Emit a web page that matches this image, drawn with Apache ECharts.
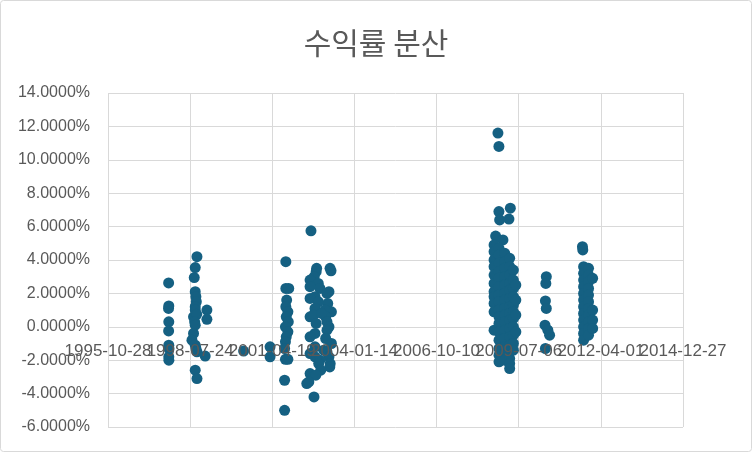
<!DOCTYPE html>
<html>
<head>
<meta charset="utf-8">
<script src="https://cdn.jsdelivr.net/npm/echarts@6/dist/echarts.min.js"></script>
<style>
html,body{margin:0;padding:0;background:#fff;}
#chart{width:752px;height:452px;}
</style>
</head>
<body>
<div id="chart"></div>
<script>
// Title and axis settings
const chartTitle = '수익률 분산';
const xTickStart = 35000;   // Excel date serial (1995-10-28)
const xTickEnd = 42000;     // 2014-12-27
const xTickStep = 1000;     // days
const yTickStart = -6;      // percent
const yTickEnd = 14;
const yTickStep = 2;

// Observation dates (Excel date serials) and returns (%), grouped by period
const datesA = [35738, 35740, 35737, 35740, 35738, 35740, 35742, 35740, 35741];
const returnsA = [2.63, 1.25, 1.1, 0.3, -0.25, -1.1, -1.3, -1.8, -2.0];

const datesB = [36083, 36062, 36050, 36062, 36070, 36075, 36062, 36062, 36041, 36080, 36055, 36062, 36041, 36022, 36062, 36070, 36083, 36062, 36083, 36204, 36204, 36183];
const returnsB = [4.2, 3.55, 2.95, 2.1, 1.8, 1.5, 1.2, 1.0, 0.6, 0.75, 0.3, 0.1, -0.4, -0.8, -1.1, -1.3, -1.5, -2.6, -3.1, 1.0, 0.45, -1.75];

const datesC = [36651, 36973, 36973];
const returnsC = [-1.45, -1.2, -1.8];

const datesE = [37165, 37165, 37200, 37175, 37165, 37190, 37170, 37195, 37160, 37190, 37170, 37160, 37150, 37160, 37190, 37150, 37150];
const returnsE = [3.9, 2.3, 2.3, 1.6, 1.2, 0.9, 0.6, 0.3, 0.0, -0.3, -0.6, -0.9, -1.3, -1.95, -1.95, -3.2, -5.0];

const datesF = [37471, 37540, 37534, 37703, 37715, 37511, 37460, 37560, 37460, 37580, 37690, 37666, 37520, 37460, 37675, 37560, 37520, 37720, 37640, 37460, 37504, 37650, 37600, 37534, 37666, 37690, 37520, 37666, 37460, 37650, 37720, 37520, 37625, 37666, 37460, 37520, 37690, 37580, 37565, 37705, 37700, 37590, 37460, 37530, 37420, 37445, 37508];
const returnsF = [5.75, 3.5, 3.3, 3.5, 3.35, 3.0, 2.8, 2.6, 2.4, 2.3, 2.1, 2.0, 1.8, 1.7, 1.4, 1.5, 1.1, 0.9, 1.0, 0.6, 0.7, 0.6, 0.8, 0.2, 0.3, 0.0, -0.4, -0.2, -0.6, -0.7, -1.0, -1.2, -1.4, -1.5, -1.6, -1.8, -1.8, -2.0, -2.2, -2.2, -2.4, -2.6, -2.8, -2.9, -3.4, -3.3, -4.2];

const datesG = [39747, 39759, 39759, 39898, 39768, 39881, 39719, 39808,
  39700, 39700, 39700, 39700, 39700, 39700, 39700, 39700, 39700, 39700, 39700,
  39760, 39760, 39760, 39760, 39760, 39760, 39760, 39760, 39760, 39760, 39760, 39760, 39760, 39760, 39760, 39760,
  39830, 39830, 39830, 39830, 39830, 39830, 39830, 39830, 39830, 39830, 39830, 39830, 39830, 39830, 39830,
  39890, 39890, 39890, 39890, 39890, 39890, 39890, 39890, 39890, 39890, 39890, 39890, 39890, 39890, 39890, 39890,
  39935, 39935, 39935, 39935, 39935, 39935, 39935, 39935, 39935, 39935, 39935,
  39965, 39965, 39965, 39965];
const returnsG = [11.6, 10.8, 6.9, 7.1, 6.4, 6.45, 5.43, 5.2,
  4.9, 4.5, 4.0, 3.6, 3.1, 2.6, 2.1, 1.8, 1.4, 0.9, -0.2,
  4.7, 4.3, 3.8, 3.3, 2.9, 2.4, 1.9, 1.5, 1.0, 0.6, 0.2, -0.3, -0.8, -1.3, -1.7, -2.1,
  4.4, 3.9, 3.5, 3.0, 2.5, 2.0, 1.6, 1.1, 0.7, 0.3, -0.2, -0.7, -1.2, -1.6, -2.0,
  4.1, 3.6, 3.1, 2.6, 2.2, 1.7, 1.2, 0.8, 0.4, -0.1, -0.6, -1.1, -1.5, -1.9, -2.2, -2.5,
  3.4, 2.8, 2.3, 1.8, 1.3, 0.9, 0.5, 0.0, -0.5, -1.0, -1.4,
  2.5, 1.6, 0.7, -0.3];

const datesH = [40336, 40330, 40325, 40336, 40320, 40355, 40376, 40325];
const returnsH = [3.0, 2.6, 1.55, 1.1, 0.1, -0.2, -0.5, -1.3];

const datesI = [40776, 40780,
  40790, 40790, 40790, 40790, 40790, 40790, 40790, 40790, 40790, 40790, 40790, 40790,
  40850, 40850, 40850, 40850, 40850, 40850, 40850, 40850, 40850, 40850, 40850,
  40900, 40900, 40900, 40900];
const returnsI = [4.8, 4.6,
  3.6, 3.2, 2.8, 2.4, 2.0, 1.6, 1.2, 0.8, 0.4, 0.0, -0.4, -0.8,
  3.5, 3.1, 2.7, 2.3, 1.9, 1.5, 1.1, 0.7, 0.3, -0.1, -0.5,
  2.9, 1.0, 0.4, -0.1];

const dates = [].concat(datesA, datesB, datesC, datesE, datesF, datesG, datesH, datesI);
const returns = [].concat(returnsA, returnsB, returnsC, returnsE, returnsF, returnsG, returnsH, returnsI);

function pad(n) { return (n < 10 ? '0' : '') + n; }
function serialToDateString(s) {
  const d = new Date(Date.UTC(1899, 11, 30) + Math.round(s) * 86400000);
  return d.getUTCFullYear() + '-' + pad(d.getUTCMonth() + 1) + '-' + pad(d.getUTCDate());
}
// Tick index (0 for the first tick) used to split labels over two label axes
function tickIndex(v) { return Math.round((v - xTickStart) / xTickStep); }

const points = dates.map((d, i) => [d, returns[i]]);

const textColor = '#595959';
const gridColor = '#d9d9d9';
const labelFont = '"Liberation Sans", Arial, sans-serif';

const gridTop = 93, gridBottom = 25, chartHeight = 452;
const plotHeight = chartHeight - gridTop - gridBottom;
// The date labels sit where the value axis crosses 0 (Excel "axis crosses at 0")
const zeroOffset = -(0 - yTickStart) / (yTickEnd - yTickStart) * plotHeight;

function labelAxis(parity) {
  return {
    type: 'value',
    position: 'bottom',
    offset: zeroOffset,
    min: xTickStart,
    max: xTickEnd,
    interval: xTickStep,
    z: 10,
    axisLine: { show: false, onZero: false },
    axisTick: { show: false },
    splitLine: { show: false },
    axisLabel: {
      show: true,
      margin: 16,
      fontSize: 17,
      fontFamily: labelFont,
      color: textColor,
      showMinLabel: true,
      showMaxLabel: true,
      formatter: v => (tickIndex(v) % 2 === parity ? serialToDateString(v) : '')
    }
  };
}

const chart = echarts.init(document.getElementById('chart'), null, { renderer: 'canvas' });
chart.setOption({
  backgroundColor: '#ffffff',
  animation: false,
  title: {
    text: chartTitle,
    left: 'center',
    top: 23,
    textStyle: {
      fontFamily: '"Noto Sans CJK KR", sans-serif',
      fontSize: 30,
      fontWeight: 'normal',
      color: textColor
    }
  },
  graphic: [{
    type: 'rect',
    shape: { x: 0.5, y: 0.5, width: 751, height: 451, r: 3 },
    style: { fill: null, stroke: gridColor, lineWidth: 1 },
    silent: true,
    z: -10
  }],
  grid: { left: 108, right: 69, top: gridTop, bottom: gridBottom, containLabel: false, outerBoundsMode: 'none' },
  xAxis: [{
    type: 'value',
    position: 'bottom',
    min: xTickStart,
    max: xTickEnd,
    interval: xTickStep,
    axisLine: { show: false, onZero: false },
    axisTick: { show: false },
    axisLabel: { show: false },
    splitLine: { show: true, lineStyle: { color: gridColor, width: 1 } }
  }, labelAxis(0), labelAxis(1)],
  yAxis: {
    type: 'value',
    min: yTickStart,
    max: yTickEnd,
    interval: yTickStep,
    axisLine: { show: false },
    axisTick: { show: false },
    axisLabel: {
      margin: 18,
      fontSize: 16,
      fontFamily: labelFont,
      color: textColor,
      formatter: v => v.toFixed(4) + '%'
    },
    splitLine: { show: true, lineStyle: { color: gridColor, width: 1 } }
  },
  series: [{
    type: 'scatter',
    xAxisIndex: 0,
    yAxisIndex: 0,
    symbol: 'circle',
    symbolSize: 11,
    itemStyle: { color: '#156082', opacity: 1 },
    data: points
  }]
});
</script>
</body>
</html>
